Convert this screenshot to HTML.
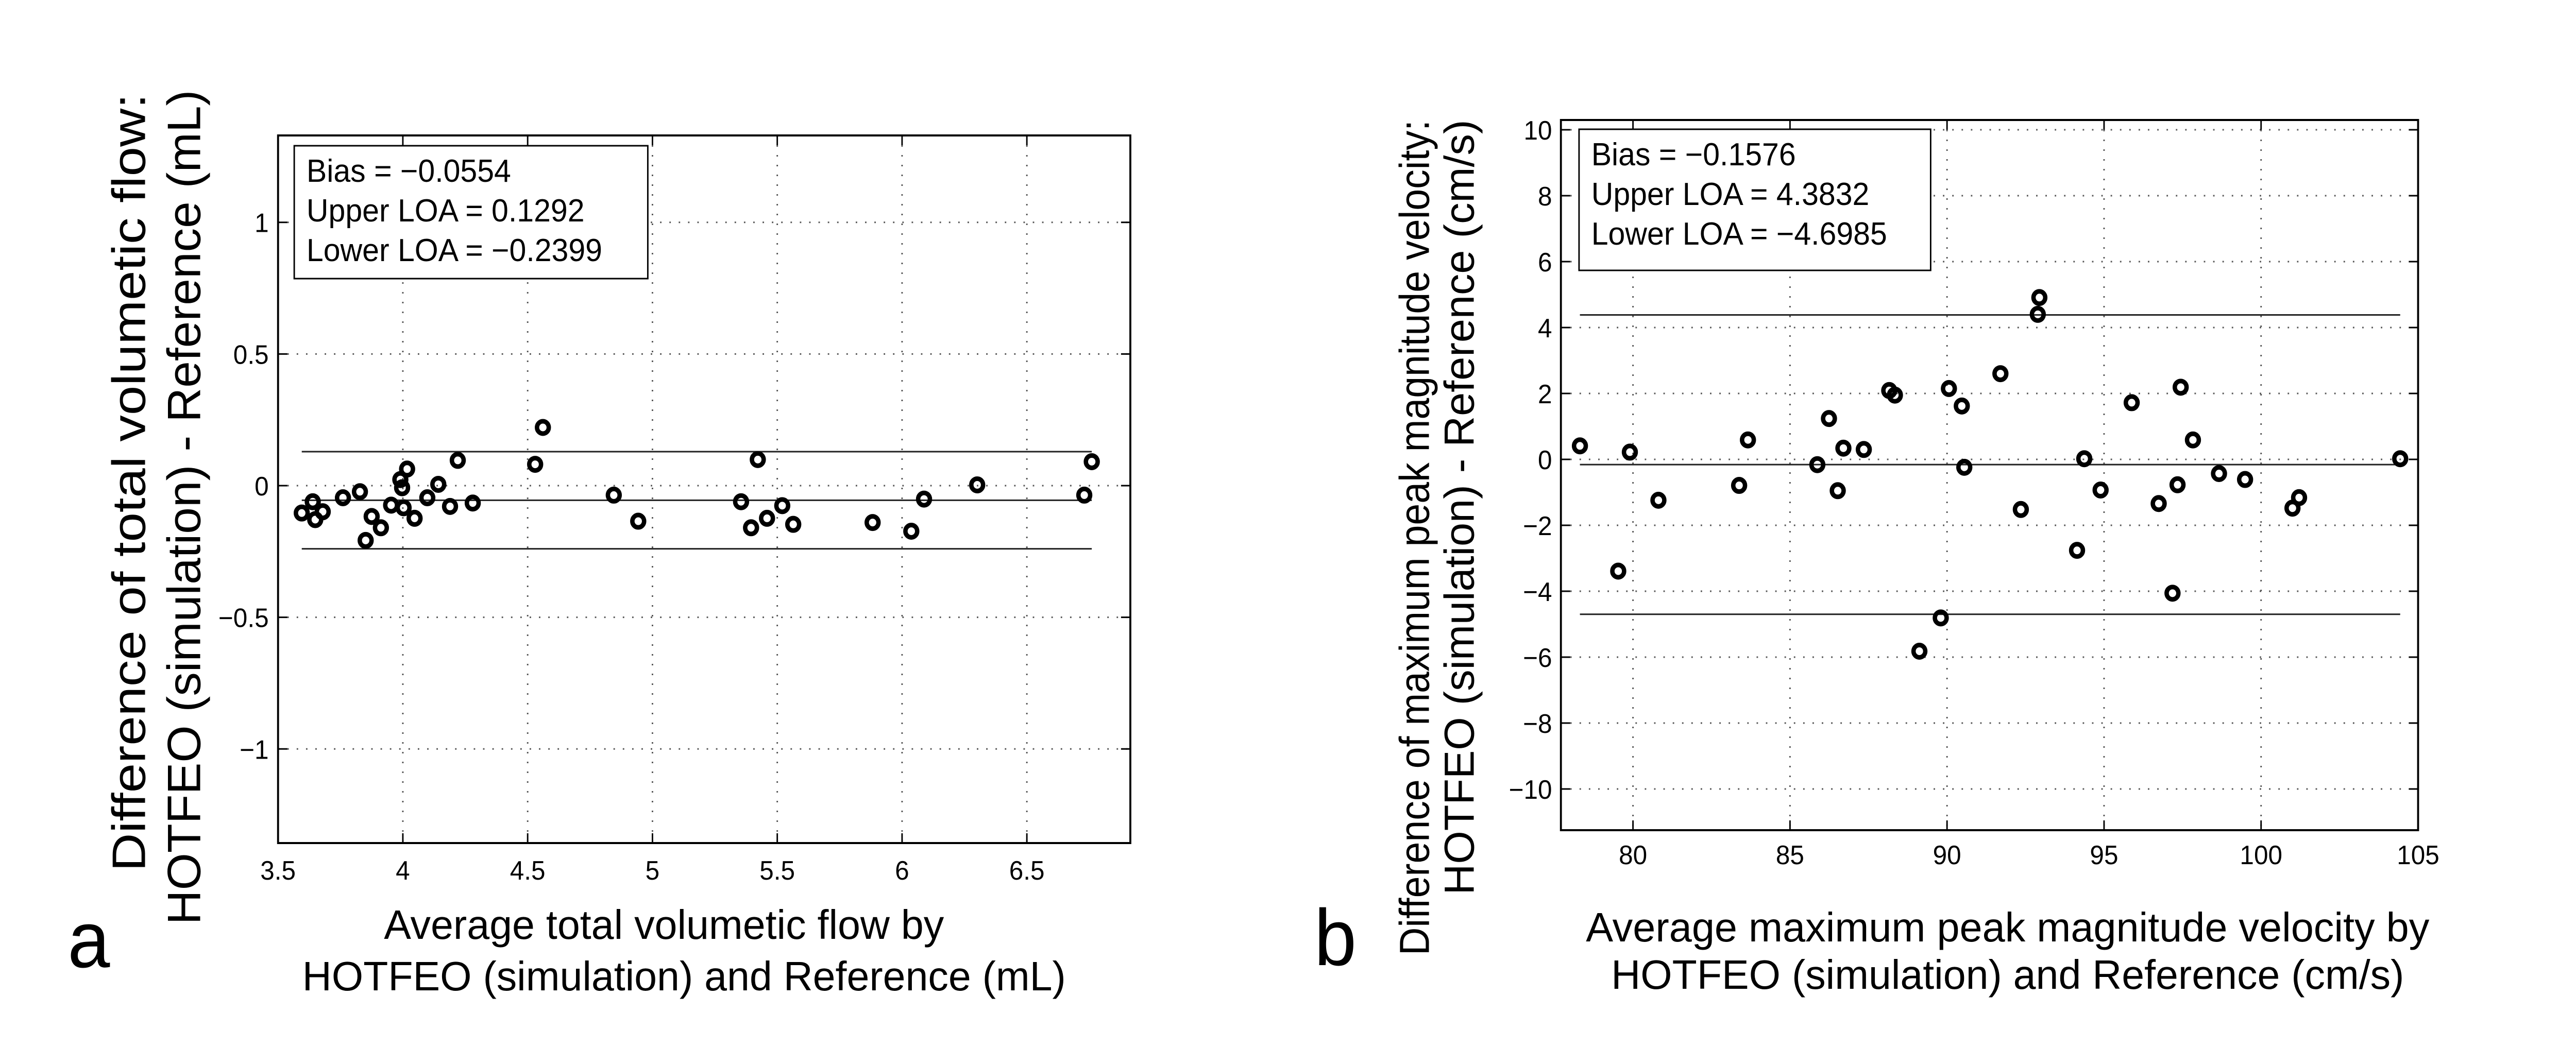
<!DOCTYPE html>
<html><head><meta charset="utf-8"><style>
html,body{margin:0;padding:0;background:#fff;width:100%;height:100%;overflow:hidden;}
svg{display:block;width:100vw;height:100vh;}
text{font-family:"Liberation Sans",sans-serif;fill:#000;}
.tk{font-size:52px;}
.lg{font-size:62px;}
</style></head><body>
<svg id="fig" viewBox="0 0 5253 2033" preserveAspectRatio="none" xmlns="http://www.w3.org/2000/svg">
<rect width="5253" height="2033" fill="#fff"/>
<g id="panelA"></g>
<g id="panelB"></g>
<text x="138" y="1878" font-size="155">a</text>
<text x="2680" y="1874" font-size="155">b</text>
<text x="1354" y="1823" font-size="80" text-anchor="middle" textLength="1142" lengthAdjust="spacingAndGlyphs">Average total volumetic flow by</text>
<text x="1395" y="1923" font-size="80" text-anchor="middle" textLength="1557" lengthAdjust="spacingAndGlyphs">HOTFEO (simulation) and Reference (mL)</text>
<text transform="translate(296,937) rotate(-90)" font-size="96" text-anchor="middle" textLength="1510" lengthAdjust="spacingAndGlyphs">Difference of total volumetic flow:</text>
<text transform="translate(408,985) rotate(-90)" font-size="96" text-anchor="middle" textLength="1621" lengthAdjust="spacingAndGlyphs">HOTFEO (simulation) - Reference (mL)</text>
<text x="4094" y="1828" font-size="80" text-anchor="middle" textLength="1720" lengthAdjust="spacingAndGlyphs">Average maximum peak magnitude velocity by</text>
<text x="4094" y="1920" font-size="80" text-anchor="middle" textLength="1617" lengthAdjust="spacingAndGlyphs">HOTFEO (simulation) and Reference (cm/s)</text>
<text transform="translate(2914,1044) rotate(-90)" font-size="86" text-anchor="middle" textLength="1622" lengthAdjust="spacingAndGlyphs">Difference of maximum peak magnitude velocity:</text>
<text transform="translate(3005,985) rotate(-90)" font-size="86" text-anchor="middle" textLength="1505" lengthAdjust="spacingAndGlyphs">HOTFEO (simulation) - Reference (cm/s)</text>
</svg>
<script>
// Panel a data
const aX = [3.595,3.639,3.649,3.679,3.760,3.828,3.851,3.875,3.912,3.953,3.990,3.997,4.003,4.017,4.047,4.098,4.142,4.189,4.220,4.280,4.530,4.561,4.845,4.943,5.355,5.395,5.422,5.459,5.520,5.564,5.882,6.037,6.088,6.301,6.730,6.760];
const aY = [-0.104,-0.061,-0.129,-0.099,-0.046,-0.023,-0.208,-0.117,-0.160,-0.074,0.023,-0.008,-0.084,0.063,-0.124,-0.046,0.005,-0.079,0.096,-0.066,0.081,0.221,-0.036,-0.135,-0.061,-0.160,0.099,-0.124,-0.076,-0.147,-0.140,-0.173,-0.051,0.003,-0.036,0.091];
const aXTicks = [3.5,4,4.5,5,5.5,6,6.5];
const aXTickLabels = ["3.5","4","4.5","5","5.5","6","6.5"];
const aYTicks = [-1,-0.5,0,0.5,1];
const aYTickLabels = ["\u22121","\u22120.5","0","0.5","1"];
const aStats = [-0.0554,0.1292,-0.2399];
const aLegend = ["Bias = \u22120.0554","Upper LOA = 0.1292","Lower LOA = \u22120.2399"];
// Panel b data
const bX = [78.31,79.53,79.90,80.81,83.38,83.66,85.87,86.24,86.52,86.70,87.35,88.16,88.34,90.06,90.47,90.55,91.70,92.35,92.89,92.94,94.14,94.37,94.89,95.88,96.74,97.18,97.34,97.44,97.83,98.66,99.49,101.0,101.21,104.43,89.12,89.80];
const bY = [0.41,-3.39,0.22,-1.24,-0.79,0.59,-0.16,1.24,-0.95,0.34,0.30,2.09,1.95,2.15,1.62,-0.24,2.60,-1.52,4.40,4.91,-2.76,0.02,-0.93,1.72,-1.34,-4.06,-0.77,2.19,0.59,-0.43,-0.61,-1.48,-1.16,0.02,-5.82,-4.81];
const bXTicks = [80,85,90,95,100,105];
const bXTickLabels = ["80","85","90","95","100","105"];
const bYTicks = [-10,-8,-6,-4,-2,0,2,4,6,8,10];
const bYTickLabels = ["\u221210","\u22128","\u22126","\u22124","\u22122","0","2","4","6","8","10"];
const bStats = [-0.1576,4.3832,-4.6985];
const bLegend = ["Bias = \u22120.1576","Upper LOA = 4.3832","Lower LOA = \u22124.6985"];

const NS = "http://www.w3.org/2000/svg";
function mk(parent, tag, attrs){
  const e = document.createElementNS(NS, tag);
  for (const k in attrs) e.setAttribute(k, attrs[k]);
  parent.appendChild(e);
  return e;
}
function drawPanel(g, P, xs, ys, xt, xtl, yt, ytl, stats, legend){
  const sx = v => P.x0 + (v - P.xv0) * P.kx;
  const sy = v => P.y0 - (v - P.yv0) * P.ky;
  xt.forEach(v => {
    const l = mk(g,'line',{x1:sx(v),x2:sx(v),y1:P.top,y2:P.bottom,stroke:'#555','stroke-width':3,'stroke-dasharray':'3 16'});
    
    
  });
  yt.forEach(v => {
    const l = mk(g,'line',{x1:P.left,x2:P.right,y1:sy(v),y2:sy(v),stroke:'#555','stroke-width':3,'stroke-dasharray':'3 16'});
    
    
  });
  xt.forEach((v,i) => {
    const t1 = mk(g,'line',{x1:sx(v),x2:sx(v),y1:P.bottom,y2:P.bottom-19,stroke:'#000','stroke-width':3});
    
    
    const t2 = mk(g,'line',{x1:sx(v),x2:sx(v),y1:P.top,y2:P.top+19,stroke:'#000','stroke-width':3});
    
    
    const tx = mk(g,'text',{x:sx(v),y:P.xlabY,'class':'tk','text-anchor':'middle'});
    tx.textContent = xtl[i];
    
    
  });
  yt.forEach((v,i) => {
    const t1 = mk(g,'line',{x1:P.left,x2:P.left+19,y1:sy(v),y2:sy(v),stroke:'#000','stroke-width':3});
    
    
    const t2 = mk(g,'line',{x1:P.right,x2:P.right-19,y1:sy(v),y2:sy(v),stroke:'#000','stroke-width':3});
    
    
    const tx = mk(g,'text',{x:P.ylabX,y:sy(v)+19,'class':'tk','text-anchor':'end'});
    tx.textContent = ytl[i];
    
    
  });
  const box = mk(g,'rect',{x:P.left,y:P.top,width:P.right-P.left,height:P.bottom-P.top,fill:'none',stroke:'#000','stroke-width':4});
  
  
  const xmin = Math.min(...xs), xmax = Math.max(...xs);
  const names = ['bias-line','upper-loa-line','lower-loa-line'];
  stats.forEach((s,i) => {
    const l = mk(g,'line',{x1:sx(xmin),x2:sx(xmax),y1:sy(s),y2:sy(s),stroke:'#222','stroke-width':3});
    
    
  });
  xs.forEach((v,i) => {
    const c = mk(g,'circle',{cx:sx(v),cy:sy(ys[i]),r:12,fill:'none',stroke:'#000','stroke-width':9});
    
    
  });
  const lb = mk(g,'rect',{x:P.lgX,y:P.lgY,width:P.lgW,height:P.lgH,fill:'#fff',stroke:'#000','stroke-width':3});
  
  
  legend.forEach((t,i) => {
    const tx = mk(g,'text',{x:P.lgX+25,y:P.lgY+70+i*77,'class':'lg'});
    tx.textContent = t;
    
    
  });
}
drawPanel(document.getElementById('panelA'),
  {left:567,right:2305,top:263,bottom:1637,x0:567,xv0:3.5,kx:509,y0:943,yv0:0,ky:511.3,xlabY:1708,ylabX:548,lgX:600,lgY:283,lgW:721,lgH:258},
  aX,aY,aXTicks,aXTickLabels,aYTicks,aYTickLabels,aStats,aLegend);
drawPanel(document.getElementById('panelB'),
  {left:3183,right:4931,top:233,bottom:1612,x0:3330,xv0:80,kx:64.04,y0:892,yv0:0,ky:64,xlabY:1678,ylabX:3165,lgX:3220,lgY:251,lgW:717,lgH:274},
  bX,bY,bXTicks,bXTickLabels,bYTicks,bYTickLabels,bStats,bLegend);
</script>
</body></html>
